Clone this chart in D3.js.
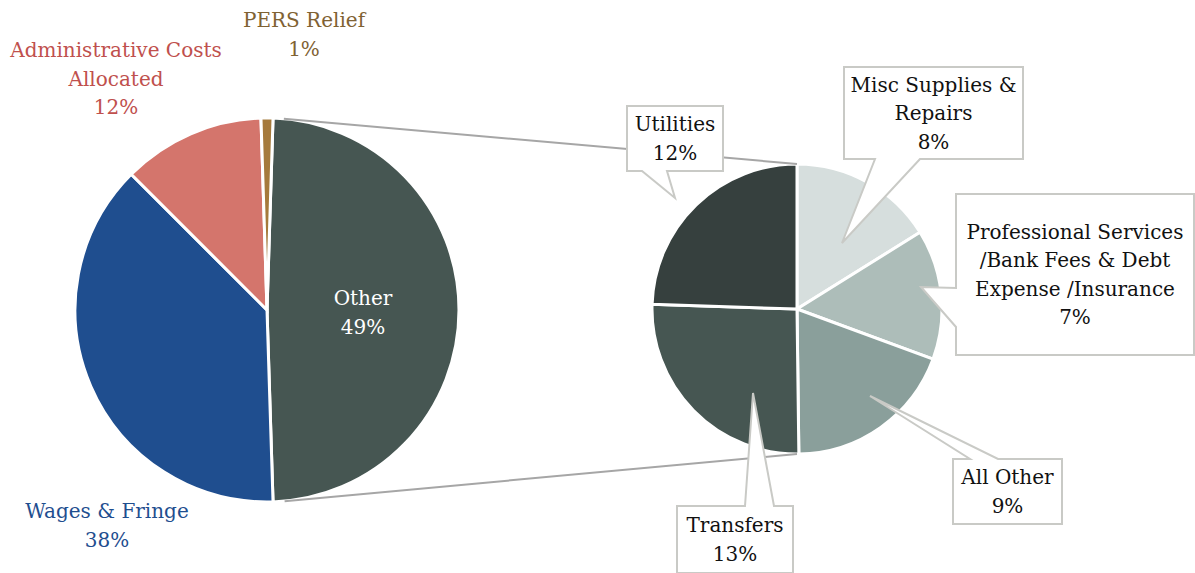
<!DOCTYPE html>
<html><head><meta charset="utf-8">
<script src="https://cdn.jsdelivr.net/npm/d3@7"></script>
<style>
html,body{margin:0;padding:0;background:#fff;}
svg{display:block;font-family:"DejaVu Serif","Liberation Serif",serif;}
</style></head>
<body><svg id="chart" width="1195" height="573"></svg>
<script>
// ---- data ----
const mainCategories = ["Other", "Wages & Fringe", "Administrative Costs Allocated", "PERS Relief"];
const mainValues = [49.0, 38.0, 12.0, 1.0];
const mainColors = ["#465652", "#1f4e8f", "#d4756c", "#a57a3c"];
const mainLabelColors = ["#ffffff", "#1f4e8f", "#c0504d", "#7f6233"];

const subCategories = ["Misc Supplies & Repairs", "Professional Services /Bank Fees & Debt Expense /Insurance", "All Other", "Transfers", "Utilities"];
const subValues = [7.9, 7.1, 9.4, 12.6, 12.0];
const subColors = ["#d6dedd", "#adbdb9", "#8a9f9b", "#465652", "#36403e"];

// ---- layout ----
const svg = d3.select("#chart");
const C1 = {x: 267, y: 310, r: 192};
const C2 = {x: 797, y: 309, r: 145};
const fmt = v => d3.format(".0f")(v) + "%";
const FS = 20, LH = 28.5;

// main pie: "Other" slice centered on the right (90deg)
const otherFrac = mainValues[0] / d3.sum(mainValues);
const start1 = Math.PI / 2 - otherFrac * Math.PI;
const pie1 = d3.pie().sort(null).value(d => d).startAngle(start1).endAngle(start1 + 2 * Math.PI);
const arcs1 = pie1(mainValues);
const arc1 = d3.arc().innerRadius(0).outerRadius(C1.r);

const pie2 = d3.pie().sort(null).value(d => d).startAngle(0).endAngle(2 * Math.PI);
const arcs2 = pie2(subValues);
const arc2 = d3.arc().innerRadius(0).outerRadius(C2.r);

// connector lines (tangent from second pie top/bottom to first pie)
function tangentPoint(px, py, upper) {
  const dx = px - C1.x, dy = py - C1.y;
  const d = Math.hypot(dx, dy);
  const base = Math.atan2(dy, dx);
  const off = Math.acos(C1.r / d);
  const a = upper ? base - off : base + off;
  return [C1.x + C1.r * Math.cos(a), C1.y + C1.r * Math.sin(a)];
}
const topP = [C2.x, C2.y - C2.r], botP = [C2.x, C2.y + C2.r];

const g1 = svg.append("g").attr("transform", `translate(${C1.x},${C1.y})`);
g1.selectAll("path").data(arcs1).join("path")
  .attr("d", arc1).attr("fill", (d, i) => mainColors[i])
  .attr("stroke", "#fff").attr("stroke-width", 3).attr("stroke-linejoin", "miter");

const g2 = svg.append("g").attr("transform", `translate(${C2.x},${C2.y})`);
g2.selectAll("path").data(arcs2).join("path")
  .attr("d", arc2).attr("fill", (d, i) => subColors[i])
  .attr("stroke", "#fff").attr("stroke-width", 3);

const t1 = tangentPoint(topP[0], topP[1], true);
const t2 = tangentPoint(botP[0], botP[1], false);
svg.append("line").attr("x1", t1[0]).attr("y1", t1[1]).attr("x2", topP[0]).attr("y2", topP[1])
  .attr("stroke", "#a6a6a6").attr("stroke-width", 2);
svg.append("line").attr("x1", t2[0]).attr("y1", t2[1]).attr("x2", botP[0]).attr("y2", botP[1])
  .attr("stroke", "#a6a6a6").attr("stroke-width", 2);

// main pie labels
function multiText(x, yFirst, lines, color) {
  const t = svg.append("text").attr("text-anchor", "middle").attr("font-size", FS).attr("fill", color);
  lines.forEach((l, i) => t.append("tspan").attr("x", x).attr("y", yFirst + i * LH).text(l));
}
const c0 = arc1.centroid(arcs1[0]);
multiText(C1.x + c0[0], C1.y + c0[1] - 5, ["Other", fmt(mainValues[0])], mainLabelColors[0]);
multiText(107, 518, ["Wages & Fringe", fmt(mainValues[1])], mainLabelColors[1]);
multiText(116, 57, ["Administrative Costs", "Allocated", fmt(mainValues[2])], mainLabelColors[2]);
multiText(304, 27, ["PERS Relief", fmt(mainValues[3])], mainLabelColors[3]);

// callouts for second pie: box [x,y,w,h], pointer side and base range, tip relative to pie center
const callouts = [
  {i: 0, lines: ["Misc Supplies &", "Repairs"], box: [844, 67, 179, 92], side: "bottom", b: [875, 920], tip: [45, -66]},
  {i: 1, lines: ["Professional Services", "/Bank Fees & Debt", "Expense /Insurance"], box: [956, 194, 238, 161], side: "left", b: [288, 327], tip: [124, -22]},
  {i: 2, lines: ["All Other"], box: [953, 459, 109, 65], side: "top", b: [970, 998], tip: [73, 87]},
  {i: 3, lines: ["Transfers"], box: [677, 506, 116, 67], side: "top", b: [745, 774], tip: [-44, 84]},
  {i: 4, lines: ["Utilities"], box: [627, 106, 96, 65], side: "bottom", b: [642, 667], tip: [-122, -111]}
];
callouts.forEach(c => {
  const [x, y, w, h] = c.box;
  const tx = C2.x + c.tip[0], ty = C2.y + c.tip[1];
  let pts;
  if (c.side === "bottom") pts = [[x, y], [x + w, y], [x + w, y + h], [c.b[1], y + h], [tx, ty], [c.b[0], y + h], [x, y + h]];
  else if (c.side === "top") pts = [[x, y], [c.b[0], y], [tx, ty], [c.b[1], y], [x + w, y], [x + w, y + h], [x, y + h]];
  else pts = [[x, y], [x + w, y], [x + w, y + h], [x, y + h], [x, c.b[1]], [tx, ty], [x, c.b[0]]];
  svg.append("path").attr("d", d3.line()(pts) + "Z")
    .attr("fill", "#fff").attr("stroke", "#c9cac6").attr("stroke-width", 2);
  const lines = c.lines.concat([fmt(subValues[c.i])]);
  const textH = (lines.length - 1) * LH;
  const yFirst = y + h / 2 - textH / 2 + 7;
  multiText(x + w / 2, yFirst, lines, "#111");
});
</script></body></html>
